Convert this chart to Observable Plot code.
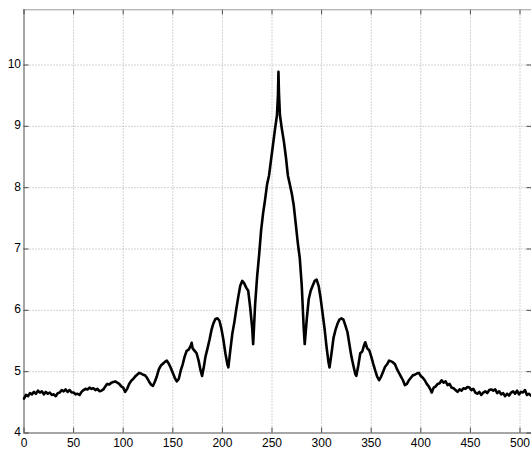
<!DOCTYPE html>
<html>
<head>
<meta charset="utf-8">
<script src="https://cdn.jsdelivr.net/npm/d3@7"></script>
<script src="https://cdn.jsdelivr.net/npm/@observablehq/plot@0.6"></script>
<style>
  html, body { margin: 0; padding: 0; background: #fff; overflow: hidden; }
  #chart svg { display: block; }
</style>
</head>
<body>
<div id="chart"></div>
<script>
// Sample positions (bin index) of the trace
const sampleX = [
  0, 2, 4, 6, 8, 10, 12, 14, 16, 18, 20, 22, 24, 26, 28, 30, 32, 34, 36, 38,
  40, 42, 44, 46, 48, 50, 52, 54, 56, 58, 60, 62, 64, 66, 68, 70, 72, 74, 76, 78,
  80, 82, 84, 86, 88, 90, 92, 94, 96, 98, 100, 102, 104, 106, 108, 110, 112, 114, 116, 118,
  120, 122, 124, 126, 128, 130, 132, 134, 136, 138, 140, 142, 144, 146, 148, 150, 152, 154, 156, 158,
  160, 162, 164, 166, 168, 169, 170, 172, 174, 176, 178, 179.5, 181, 183, 185, 187, 189, 191, 193, 195,
  197, 199, 201, 203, 205, 206, 208, 210, 212, 214, 216, 218, 220, 222, 224, 226, 228, 230, 231, 233,
  235, 237, 239, 241, 243, 245, 247, 249, 251, 253, 255, 256, 256.5, 257, 258, 260, 262, 264, 266, 268,
  270, 272, 274, 276, 278, 280, 282, 283, 285, 287, 289, 291, 293, 295, 297, 299, 301, 303, 305, 307,
  308, 310, 312, 314, 316, 318, 320, 322, 324, 326, 328, 330, 332, 334, 335, 337, 339, 341, 343, 344,
  346, 348, 350, 352, 354, 356, 358, 360, 362, 364, 366, 368, 370, 372, 374, 376, 378, 380, 382, 384,
  386, 388, 390, 392, 394, 396, 398, 400, 402, 404, 406, 408, 410, 411, 413, 415, 417, 419, 421, 423,
  425, 427, 429, 431, 433, 435, 437, 439, 441, 443, 445, 447, 449, 451, 453, 455, 457, 459, 461, 463,
  465, 467, 469, 471, 473, 475, 477, 479, 481, 483, 485, 487, 489, 491, 493, 495, 497, 499, 501, 503,
  505, 507, 509, 511
];

// Measured level at each sample position
const level = [
  4.56, 4.62, 4.60, 4.65, 4.63, 4.67, 4.64, 4.69, 4.66, 4.68, 4.63, 4.67, 4.64, 4.66, 4.62, 4.63, 4.60, 4.65, 4.66, 4.70,
  4.68, 4.71, 4.67, 4.70, 4.66, 4.66, 4.63, 4.64, 4.62, 4.67, 4.70, 4.72, 4.71, 4.74, 4.72, 4.73, 4.70, 4.72, 4.68, 4.69,
  4.71, 4.76, 4.80, 4.79, 4.82, 4.83, 4.84, 4.82, 4.80, 4.76, 4.74, 4.67, 4.72, 4.80, 4.85, 4.88, 4.92, 4.95, 4.98, 4.97,
  4.95, 4.94, 4.90, 4.84, 4.79, 4.77, 4.84, 4.93, 5.04, 5.10, 5.13, 5.16, 5.18, 5.13, 5.06, 4.98, 4.90, 4.84, 4.88, 5.02,
  5.12, 5.25, 5.34, 5.36, 5.42, 5.47, 5.38, 5.34, 5.30, 5.18, 5.02, 4.93, 5.05, 5.25, 5.38, 5.52, 5.68, 5.79, 5.86, 5.87,
  5.83, 5.70, 5.52, 5.30, 5.12, 5.07, 5.35, 5.62, 5.80, 6.02, 6.22, 6.40, 6.48, 6.44, 6.37, 6.32, 6.05, 5.72, 5.45, 6.10,
  6.55, 6.90, 7.30, 7.58, 7.80, 8.05, 8.20, 8.45, 8.70, 8.95, 9.18, 9.50, 9.89, 9.55, 9.18, 8.95, 8.75, 8.50, 8.20, 8.05,
  7.90, 7.70, 7.40, 7.10, 6.85, 6.40, 5.70, 5.45, 5.85, 6.18, 6.32, 6.40, 6.48, 6.50, 6.40, 6.20, 5.95, 5.70, 5.40, 5.15,
  5.07, 5.30, 5.55, 5.68, 5.78, 5.85, 5.87, 5.85, 5.75, 5.65, 5.45, 5.25, 5.10, 4.96, 4.93, 5.10, 5.30, 5.33, 5.44, 5.48,
  5.38, 5.35, 5.25, 5.13, 5.02, 4.92, 4.86, 4.92, 5.00, 5.08, 5.12, 5.18, 5.17, 5.15, 5.12, 5.04, 4.98, 4.92, 4.86, 4.78,
  4.80, 4.86, 4.90, 4.94, 4.95, 4.97, 4.98, 4.93, 4.90, 4.86, 4.80, 4.76, 4.70, 4.66, 4.74, 4.76, 4.80, 4.81, 4.86, 4.82,
  4.84, 4.78, 4.80, 4.74, 4.73, 4.70, 4.67, 4.71, 4.69, 4.73, 4.72, 4.75, 4.74, 4.70, 4.72, 4.66, 4.64, 4.67, 4.62, 4.66,
  4.68, 4.65, 4.70, 4.71, 4.69, 4.71, 4.65, 4.68, 4.63, 4.65, 4.60, 4.64, 4.61, 4.66, 4.68, 4.64, 4.69, 4.63, 4.67, 4.66,
  4.70, 4.62, 4.64, 4.61
];

const xTicks = [0, 50, 100, 150, 200, 250, 300, 350, 400, 450, 500];
const yTicks = [4, 5, 6, 7, 8, 9, 10];

const xMax = 512;
const yMin = 4;
const yMax = 10.9;

const trace = sampleX.map((x, i) => ({x, y: level[i]}));

const W = 531, H = 450;
const mL = 23.5, mT = 9.3, mB = 17.5;
const xRange = [mL, mL + xMax * 0.992];
const tickLenX = 5 / 0.992;            // inward tick length in x units
const tickLenY = 5 / 61.3;             // inward tick length in y units

const gridStyle = {stroke: "#a6a6a6", strokeDasharray: "1,2", strokeWidth: 1};
const axisColor = "#4d4d4d";

const chart = Plot.plot({
  width: W,
  height: H,
  marginLeft: mL,
  marginTop: mT,
  marginBottom: mB,
  marginRight: 0,
  style: {fontFamily: "'Liberation Sans', Arial, sans-serif", fontSize: "12px", background: "#fff"},
  x: {domain: [0, xMax], range: xRange, axis: null},
  y: {domain: [yMin, yMax], range: [H - mB, mT], axis: null},
  marks: [
    // dotted grid
    Plot.ruleX(xTicks.filter(d => d > 0), {y1: yMin, y2: yMax, ...gridStyle}),
    Plot.ruleY(yTicks.filter(d => d > yMin), {x1: 0, x2: xMax, ...gridStyle}),
    // inward tick marks on all four sides
    Plot.ruleX(xTicks, {y1: yMin, y2: yMin + tickLenY, stroke: axisColor}),
    Plot.ruleX(xTicks, {y1: yMax, y2: yMax - tickLenY, stroke: axisColor}),
    Plot.ruleY(yTicks, {x1: 0, x2: tickLenX, stroke: axisColor}),
    Plot.ruleY(yTicks, {x1: xMax, x2: xMax - tickLenX, stroke: axisColor}),
    // axes box
    Plot.ruleY([yMin], {x1: 0, x2: xMax, stroke: axisColor}),
    Plot.ruleY([yMax], {x1: 0, x2: xMax, stroke: "#9a9a9a"}),
    Plot.ruleX([0], {y1: yMin, y2: yMax, stroke: axisColor}),
    Plot.ruleX([xMax], {y1: yMin, y2: yMax, stroke: axisColor}),
    // the trace
    Plot.line(trace, {x: "x", y: "y", stroke: "#000", strokeWidth: 2.6, strokeLinejoin: "round"}),
    // tick labels
    Plot.text(xTicks, {x: d => d, y: yMin, dy: 10, text: d => String(d), fill: "#000", fontSize: 12}),
    Plot.text(yTicks, {x: 0, y: d => d, dx: -3, dy: -1, textAnchor: "end", text: d => String(d), fill: "#000", fontSize: 12})
  ]
});

document.getElementById("chart").appendChild(chart);
</script>
</body>
</html>
